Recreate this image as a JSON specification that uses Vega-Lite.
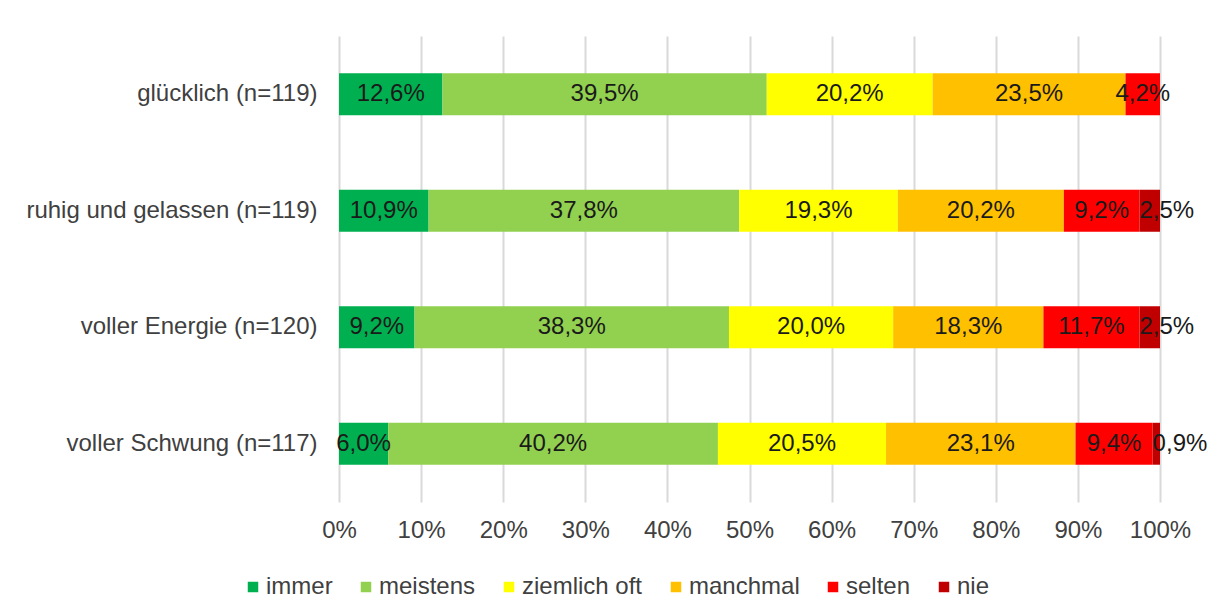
{
  "$schema": "https://vega.github.io/schema/vega-lite/v6.json",
  "width": 821,
  "height": 466,
  "autosize": {"type": "none"},
  "padding": {"left": 339, "top": 36, "right": 57, "bottom": 114},
  "background": "white",
  "config": {
    "locale": {"number": {"decimal": ",", "thousands": ".", "grouping": [3], "currency": ["", " €"]}},
    "view": {"stroke": null},
    "font": "Liberation Sans"
  },
  "data": {
    "values": [
      {"item": "glücklich (n=119)", "cat": "immer", "o": 1, "v": 0.126},
      {"item": "glücklich (n=119)", "cat": "meistens", "o": 2, "v": 0.395},
      {"item": "glücklich (n=119)", "cat": "ziemlich oft", "o": 3, "v": 0.202},
      {"item": "glücklich (n=119)", "cat": "manchmal", "o": 4, "v": 0.235},
      {"item": "glücklich (n=119)", "cat": "selten", "o": 5, "v": 0.042},
      {"item": "ruhig und gelassen (n=119)", "cat": "immer", "o": 1, "v": 0.109},
      {"item": "ruhig und gelassen (n=119)", "cat": "meistens", "o": 2, "v": 0.378},
      {"item": "ruhig und gelassen (n=119)", "cat": "ziemlich oft", "o": 3, "v": 0.193},
      {"item": "ruhig und gelassen (n=119)", "cat": "manchmal", "o": 4, "v": 0.202},
      {"item": "ruhig und gelassen (n=119)", "cat": "selten", "o": 5, "v": 0.092},
      {"item": "ruhig und gelassen (n=119)", "cat": "nie", "o": 6, "v": 0.025},
      {"item": "voller Energie (n=120)", "cat": "immer", "o": 1, "v": 0.092},
      {"item": "voller Energie (n=120)", "cat": "meistens", "o": 2, "v": 0.383},
      {"item": "voller Energie (n=120)", "cat": "ziemlich oft", "o": 3, "v": 0.200},
      {"item": "voller Energie (n=120)", "cat": "manchmal", "o": 4, "v": 0.183},
      {"item": "voller Energie (n=120)", "cat": "selten", "o": 5, "v": 0.117},
      {"item": "voller Energie (n=120)", "cat": "nie", "o": 6, "v": 0.025},
      {"item": "voller Schwung (n=117)", "cat": "immer", "o": 1, "v": 0.060},
      {"item": "voller Schwung (n=117)", "cat": "meistens", "o": 2, "v": 0.402},
      {"item": "voller Schwung (n=117)", "cat": "ziemlich oft", "o": 3, "v": 0.205},
      {"item": "voller Schwung (n=117)", "cat": "manchmal", "o": 4, "v": 0.231},
      {"item": "voller Schwung (n=117)", "cat": "selten", "o": 5, "v": 0.094},
      {"item": "voller Schwung (n=117)", "cat": "nie", "o": 6, "v": 0.009}
    ]
  },
  "encoding": {
    "y": {
      "field": "item",
      "type": "nominal",
      "sort": ["glücklich (n=119)", "ruhig und gelassen (n=119)", "voller Energie (n=120)", "voller Schwung (n=117)"],
      "scale": {"paddingInner": 0.64, "paddingOuter": 0.32},
      "axis": {"title": null, "domain": false, "ticks": false, "labelFontSize": 24, "labelColor": "#404040", "labelPadding": 22, "labelLimit": 500, "labelFont": "Liberation Sans"}
    }
  },
  "layer": [
    {
      "mark": {"type": "bar"},
      "encoding": {
        "x": {
          "field": "v",
          "type": "quantitative",
          "stack": "normalize",
          "scale": {"domain": [0, 1]},
          "axis": {
            "title": null,
            "format": ".0%",
            "values": [0, 0.1, 0.2, 0.3, 0.4, 0.5, 0.6, 0.7, 0.8, 0.9, 1],
            "grid": true,
            "gridColor": "#d9d9d9",
            "gridWidth": 2,
            "domain": false,
            "ticks": false,
            "labelFlush": false,
            "labelOverlap": false,
            "labelFontSize": 24,
            "labelColor": "#404040",
            "labelPadding": 16,
            "labelFont": "Liberation Sans"
          }
        },
        "color": {
          "field": "cat",
          "type": "nominal",
          "scale": {
            "domain": ["immer", "meistens", "ziemlich oft", "manchmal", "selten", "nie"],
            "range": ["#00B050", "#92D050", "#FFFF00", "#FFC000", "#FF0000", "#C00000"]
          },
          "legend": {
            "orient": "none",
            "legendX": -98,
            "legendY": 539,
            "direction": "horizontal",
            "title": null,
            "symbolType": "square",
            "symbolSize": 110,
            "symbolStrokeWidth": 0,
            "labelFontSize": 24,
            "labelFont": "Liberation Sans",
            "labelColor": "#404040",
            "columnPadding": 21,
            "labelOffset": 1
          }
        },
        "order": {"field": "o"}
      }
    },
    {
      "mark": {"type": "text", "fontSize": 24, "color": "#1a1a1a", "font": "Liberation Sans"},
      "encoding": {
        "x": {"field": "v", "type": "quantitative", "stack": "normalize", "bandPosition": 0.5},
        "detail": {"field": "cat"},
        "text": {"condition": {"test": "datum.cat === 'nie'", "value": ""}, "field": "v", "type": "quantitative", "format": ".1%"},
        "order": {"field": "o"}
      }
    },
    {
      "mark": {"type": "text", "fontSize": 24, "color": "#1a1a1a", "font": "Liberation Sans", "align": "left"},
      "encoding": {
        "x": {"field": "v", "type": "quantitative", "stack": "normalize", "bandPosition": 0},
        "detail": {"field": "cat"},
        "text": {"condition": {"test": "datum.cat !== 'nie'", "value": ""}, "field": "v", "type": "quantitative", "format": ".1%"},
        "order": {"field": "o"}
      }
    }
  ]
}
